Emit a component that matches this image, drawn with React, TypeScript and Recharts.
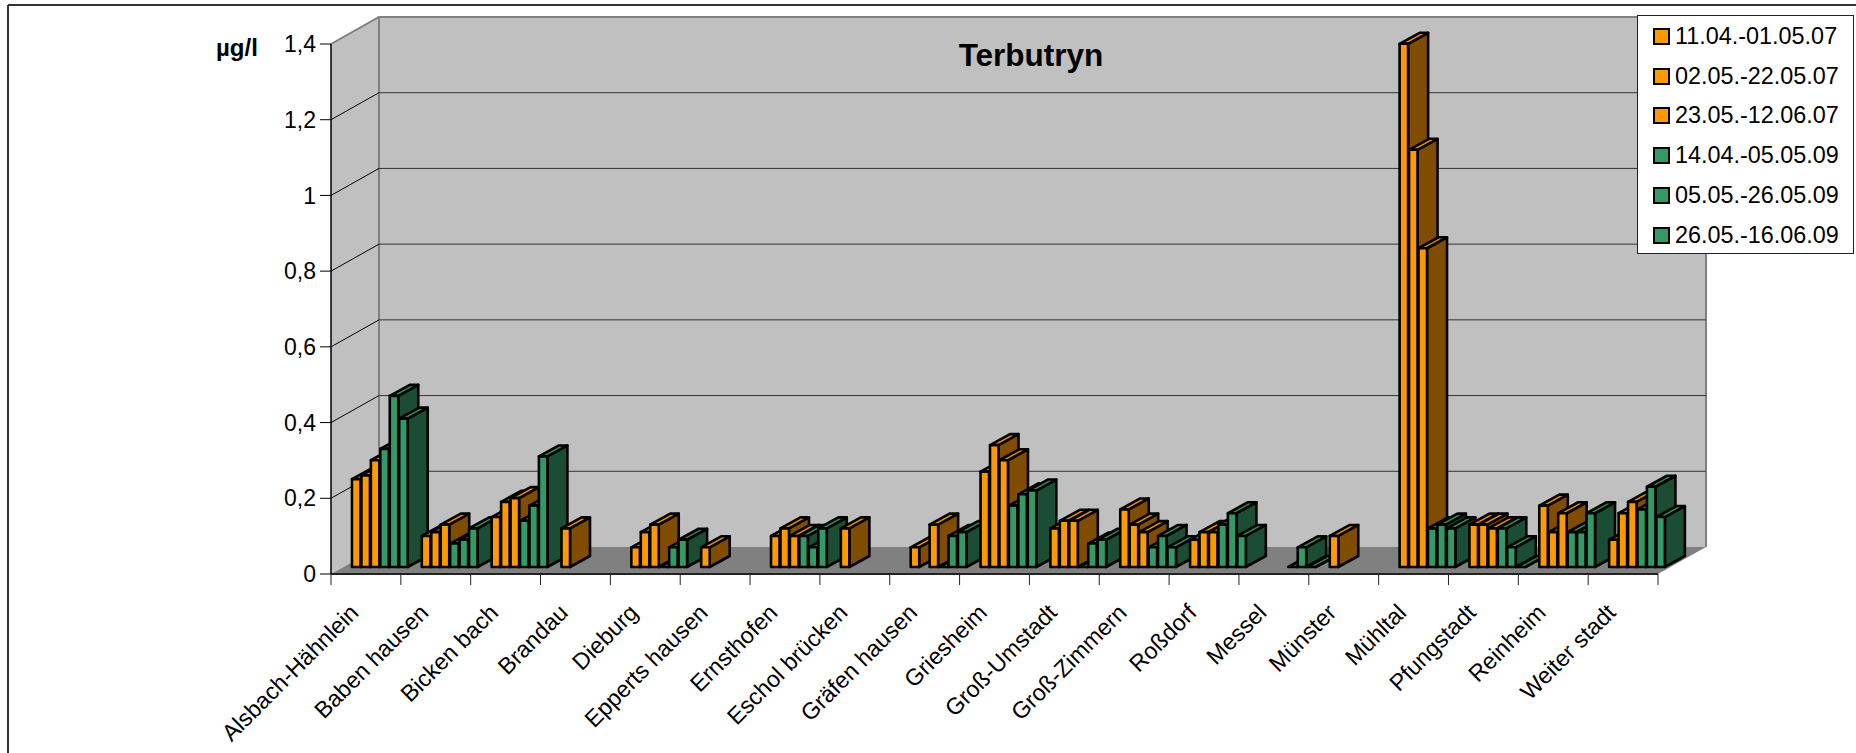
import React from "react";
import { BarChart, Bar, XAxis, YAxis, CartesianGrid, Legend } from "recharts";

const categories = ["Alsbach-Hähnlein","Baben hausen","Bicken bach","Brandau","Dieburg","Epperts hausen","Ernsthofen","Eschol brücken","Gräfen hausen","Griesheim","Groß-Umstadt","Groß-Zimmern","Roßdorf","Messel","Münster","Mühltal","Pfungstadt","Reinheim","Weiter stadt"];
const seriesNames = ["11.04.-01.05.07","02.05.-22.05.07","23.05.-12.06.07","14.04.-05.05.09","05.05.-26.05.09","26.05.-16.06.09"];
const s1 = [0.232,0.082,0.132,0.102,0.052,0.052,0.082,0.102,0.052,0.252,0.102,0.152,0.072,null,0.082,1.382,0.112,0.162,0.072];
const s2 = [0.242,0.092,0.172,null,0.092,null,0.102,null,null,0.322,0.122,0.112,0.092,null,null,1.102,0.112,0.092,0.142];
const s3 = [0.282,0.112,0.182,null,0.112,null,0.082,null,0.112,0.282,0.122,0.092,0.092,null,null,0.842,0.102,0.142,0.172];
const s4 = [0.312,0.062,0.122,null,0,null,0.082,null,0,0.162,0,0.052,0.112,0,null,0.102,0.102,0.092,0.152];
const s5 = [0.452,0.072,0.162,null,0.052,null,0.052,null,0.082,0.192,0.062,0.082,0.142,0.052,null,0.112,0.052,0.092,0.212];
const s6 = [0.392,0.102,0.292,null,0.072,null,0.102,null,0.092,0.202,0.072,0.052,0.082,0,null,0.102,0,0.142,0.132];
const allSeries = [s1,s2,s3,s4,s5,s6];
const yTicks = [0,0.2,0.4,0.6,0.8,1,1.2,1.4];
const xTicks = categories.map((_, i) => i).concat(categories.length);

const W = 1856, H = 753;
const LEFT = 331, RIGHT = 1658, TOP = 44, BOTTOM = 574;
const DX = 48, DY = 27;
const BAR_W = 9.45, BAND = (RIGHT - LEFT) / categories.length;
const BAR_DX = 20, BAR_DY = 11, SHIFT_X = 14.4, SHIFT_Y = -7;
const FONT = "'Liberation Sans', Arial, sans-serif";
const colors = [
  { front: "#FF9900", top: "#E68A00", side: "#804D00" },
  { front: "#339966", top: "#2E8A5C", side: "#1A4D33" },
];
const paletteOf = (s: number) => colors[s < 3 ? 0 : 1];

// one row per bar, left to right, so later bars paint over the faces of earlier ones
const rows: any[] = [];
categories.forEach((category, c) => {
  allSeries.forEach((vals, s) => {
    const v = vals[c];
    if (v !== null) rows.push({ pos: c + 0.5 + ((s - 2.5) * BAR_W) / BAND, value: v, series: s, category });
  });
});

function Bar3D(props: any) {
  const { x, y, width, height, payload } = props;
  const p = paletteOf(payload.series);
  const X = x + SHIFT_X, Y = y + SHIFT_Y, w = width, h = height;
  const common = { stroke: "#000", strokeWidth: 2.6, strokeLinejoin: "round" as const };
  return (
    <g>
      <polygon {...common} fill={p.side} points={`${X + w},${Y} ${X + w + BAR_DX},${Y - BAR_DY} ${X + w + BAR_DX},${Y + h - BAR_DY} ${X + w},${Y + h}`} />
      <polygon {...common} fill={p.top} points={`${X},${Y} ${X + BAR_DX},${Y - BAR_DY} ${X + w + BAR_DX},${Y - BAR_DY} ${X + w},${Y}`} />
      <rect {...common} x={X} y={Y} width={w} height={h} fill={p.front} />
    </g>
  );
}

function Walls() {
  const edge = { stroke: "#808080", strokeWidth: 2 };
  return (
    <g>
      <polygon fill="#C0C0C0" points={`${LEFT},${TOP} ${LEFT + DX},${TOP - DY} ${LEFT + DX},${BOTTOM - DY} ${LEFT},${BOTTOM}`} />
      <rect fill="#C0C0C0" x={LEFT + DX} y={TOP - DY} width={RIGHT - LEFT} height={BOTTOM - TOP} />
      <polygon fill="#808080" points={`${LEFT},${BOTTOM} ${RIGHT},${BOTTOM} ${RIGHT + DX},${BOTTOM - DY} ${LEFT + DX},${BOTTOM - DY}`} />
      <polyline fill="none" {...edge} points={`${LEFT},${TOP} ${LEFT + DX},${TOP - DY} ${RIGHT + DX},${TOP - DY} ${RIGHT + DX},${BOTTOM - DY}`} />
      <line {...edge} x1={LEFT + DX} y1={TOP - DY} x2={LEFT + DX} y2={BOTTOM - DY} />
    </g>
  );
}

function gridLine(props: any) {
  const { x1, x2, y1, index } = props;
  const isEdge = Math.abs(y1 - TOP) < 1 || Math.abs(y1 - BOTTOM) < 1;
  return (
    <g key={`grid-${index}`}>
      {index === 0 ? <Walls /> : null}
      {isEdge ? null : (
        <>
          <line x1={x1} y1={y1} x2={x1 + DX} y2={y1 - DY} stroke="#000" strokeWidth={1} />
          <line x1={x1 + DX} y1={y1 - DY} x2={x2 + DX} y2={y1 - DY} stroke="#333" strokeWidth={1} />
        </>
      )}
    </g>
  );
}

function CatTick(props: any) {
  const { x, y, payload } = props;
  const label = categories[payload.value];
  if (!label) return <g />;
  const ax = x + BAND / 2 - 6, ay = y + 27;
  return (
    <text x={ax} y={ay} textAnchor="end" fontFamily={FONT} fontSize={23.2} fill="#000" transform={`rotate(-45 ${ax} ${ay})`}>
      {label}
    </text>
  );
}

function LegendBox() {
  return (
    <div style={{ boxSizing: "border-box", width: 217, height: 239, background: "#fff", border: "1.5px solid #222", fontFamily: FONT, fontSize: 23.4, color: "#000", position: "relative" }}>
      {seriesNames.map((n, i) => (
        <div key={n} style={{ position: "absolute", left: 15, top: 7.5 + i * 39.7, height: 26, display: "flex", alignItems: "center", whiteSpace: "nowrap" }}>
          <span style={{ display: "inline-block", boxSizing: "border-box", width: 17, height: 17, background: paletteOf(i).front, border: "2px solid #000", marginRight: 5 }} />
          {n}
        </div>
      ))}
    </div>
  );
}

export default function App() {
  return (
    <div style={{ position: "absolute", left: 0, top: 0, width: W, height: H, background: "#fff", overflow: "hidden" }}>
      <BarChart width={W} height={H} data={rows} barSize={BAR_W} margin={{ top: TOP, bottom: 0, left: 0, right: W - RIGHT }}>
        <CartesianGrid vertical={false} horizontal={gridLine as any} />
        <XAxis
          type="number"
          dataKey="pos"
          domain={[0, categories.length]}
          ticks={xTicks}
          interval={0}
          allowDecimals={false}
          tick={<CatTick />}
          tickSize={11}
          tickLine={{ stroke: "#222", strokeWidth: 1 }}
          axisLine={{ stroke: "#222", strokeWidth: 2 }}
          height={H - BOTTOM}
        />
        <YAxis
          type="number"
          domain={[0, 1.4]}
          ticks={yTicks}
          interval={0}
          width={LEFT}
          tickSize={11}
          tickMargin={4}
          tickLine={{ stroke: "#000", strokeWidth: 1 }}
          axisLine={{ stroke: "#000", strokeWidth: 1.5 }}
          tick={{ fontFamily: FONT, fontSize: 23, fill: "#000" }}
          tickFormatter={(v: number) => String(v).replace(".", ",")}
        />
        <Bar dataKey="value" isAnimationActive={false} shape={<Bar3D />} />
        <Legend layout="vertical" align="center" verticalAlign="middle" content={<LegendBox />} wrapperStyle={{ position: "absolute", left: 1637, top: 15, width: 217, height: 239 }} />
        <text x={1031} y={66} textAnchor="middle" fontFamily={FONT} fontWeight="bold" fontSize={31.5} fill="#000">Terbutryn</text>
        <text x={216} y={56} fontFamily={FONT} fontWeight="bold" fontSize={24} fill="#000">µg/l</text>
        <line x1={8} y1={5} x2={W} y2={5} stroke="#333" strokeWidth={2} />
        <line x1={8} y1={5} x2={8} y2={H} stroke="#333" strokeWidth={2} />
      </BarChart>
    </div>
  );
}
